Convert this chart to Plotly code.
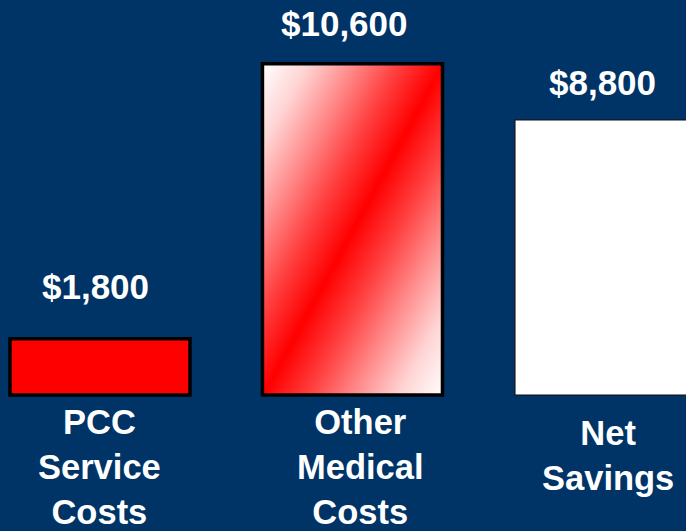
import numpy as np
import plotly.graph_objects as go

# Cost comparison data
categories = ["PCC<br>Service<br>Costs", "Other<br>Medical<br>Costs", "Net<br>Savings"]
values = [1800, 10600, 8800]
value_labels = ["$1,800", "$10,600", "$8,800"]

BG = "#003366"
FONT = "Arial, Liberation Sans, sans-serif"
BAR_W = 0.713
pos = list(range(len(values)))

# label offsets (pixels)
value_shift = [(-4, 52), (-8, 40), (-2, 38)]
cat_shift = [(0, -72), (8, -72), (3, -60.5)]

fig = go.Figure()

# Diagonal red/white gradient fill for the "Other Medical Costs" bar
gi = 1
n = 120
xe = np.linspace(pos[gi] - BAR_W / 2, pos[gi] + BAR_W / 2, n + 1)
ye = np.linspace(0, values[gi], n + 1)
xc = (xe[:-1] + xe[1:]) / 2
yc = (ye[:-1] + ye[1:]) / 2
u = (xc - xe[0]) / (xe[-1] - xe[0])
v = yc / values[gi]
U, V = np.meshgrid(u, v)
shade = np.abs(U - V)
fig.add_trace(go.Heatmap(
    x=xe, y=ye, z=shade, zmin=0, zmax=1,
    colorscale=[[0, "#ff0000"], [0.25, "#ff4040"], [0.5, "#ff8c8c"],
                [0.75, "#ffd4d4"], [1, "#ffffff"]],
    showscale=False, zsmooth="best", hoverinfo="skip",
))

# Bars with outlines
fig.add_trace(go.Bar(
    x=pos, y=values, width=BAR_W,
    marker=dict(
        color=["#ff0000", "rgba(0,0,0,0)", "#ffffff"],
        line=dict(color=["#000000", "#000000", "#111111"], width=[3.5, 3.5, 1.2]),
    ),
    hoverinfo="skip",
))

# Value labels above bars
for p, val, lab, (dx, dy) in zip(pos, values, value_labels, value_shift):
    fig.add_annotation(
        x=p, y=val, text=f"<b>{lab}</b>", showarrow=False,
        yanchor="middle", xshift=dx, yshift=dy,
        font=dict(family=FONT, size=35, color="white"),
    )

# Category labels below bars
for p, cat, (dx, dy) in zip(pos, categories, cat_shift):
    fig.add_annotation(
        x=p, y=0, text=f"<b>{cat}</b>", showarrow=False,
        yanchor="middle", xshift=dx, yshift=dy,
        font=dict(family=FONT, size=34.5, color="white"),
    )

fig.update_layout(
    width=686, height=531,
    margin=dict(l=0, r=0, t=0, b=0),
    paper_bgcolor=BG, plot_bgcolor=BG,
    showlegend=False, hovermode=False,
    xaxis=dict(range=[-0.396, 2.321], visible=False, fixedrange=True),
    yaxis=dict(range=[-4352, 12640], visible=False, fixedrange=True),
)

fig.write_html("out.html")
